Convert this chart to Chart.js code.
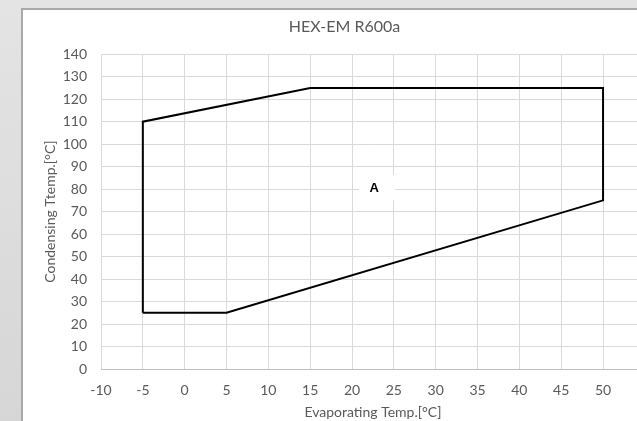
<!DOCTYPE html>
<html>
<head>
<meta charset="utf-8">
<script src="https://cdn.jsdelivr.net/npm/chart.js@4.4.0/dist/chart.umd.min.js"></script>
<style>
    html, body { margin: 0; padding: 0; width: 637px; height: 421px; overflow: hidden; }
    body { background: linear-gradient(#e4e4e4, #d6d6d6); position: relative; }
    #frame {
        position: absolute; left: 21px; top: 8px; right: -40px; bottom: -40px;
        background: #fff; border-top: 2px solid #a9a9a9; border-left: 2px solid #a9a9a9;
    }
    #wrap { position: absolute; left: 0; top: 0; width: 643px; height: 411px; }
</style>
</head>
<body>
<div id="frame"><div id="wrap"><canvas id="chart"></canvas></div></div>
<script>
// Operating envelope outline (evaporating temp, condensing temp)
const evapTemps = [-5, -5, 15, 50, 50, 5, -5];
const condTemps = [25, 110, 125, 125, 75, 25, 25];

// Region label
const regionLabels = ['A'];
const regionX = [23];
const regionY = [81];

const chartTitle = 'HEX-EM R600a';
const xTitle = 'Evaporating Temp.[°C]';
const yTitle = 'Condensing Ttemp.[°C]';

const FONT = 'Lato, "Open Sans", sans-serif';
const TEXT = '#595959';

// draws the "A" label with its white box, positioned through the scales
const regionLabelPlugin = {
    id: 'regionLabel',
    afterDatasetsDraw(chart) {
        const { ctx, scales } = chart;
        ctx.save();
        regionLabels.forEach((txt, i) => {
            const px = scales.x.getPixelForValue(regionX[i]);
            const py = scales.y.getPixelForValue(regionY[i]);
            ctx.fillStyle = '#fff';
            ctx.fillRect(px - 18, py - 12, 36, 25);
            ctx.fillStyle = '#000';
            ctx.font = 'bold 13px "Liberation Sans", Arial, sans-serif';
            ctx.textAlign = 'center';
            ctx.textBaseline = 'middle';
            ctx.fillText(txt, px - 3, py + 2);
        });
        ctx.restore();
    }
};

new Chart(document.getElementById('chart'), {
    type: 'scatter',
    data: {
        datasets: [{
            data: evapTemps.map((x, i) => ({ x: x, y: condTemps[i] })),
            showLine: true,
            borderColor: '#000',
            borderWidth: 2,
            pointRadius: 0,
            tension: 0,
            fill: false
        }]
    },
    options: {
        responsive: true,
        maintainAspectRatio: false,
        animation: false,
        layout: { padding: 0 },
        plugins: {
            legend: { display: false },
            tooltip: { enabled: false },
            title: {
                display: true,
                text: chartTitle,
                color: TEXT,
                font: { family: FONT, size: 16, weight: 'normal' },
                padding: { top: 7, bottom: 18 }
            }
        },
        scales: {
            x: {
                type: 'linear',
                min: -10,
                max: 55,
                ticks: { stepSize: 5, color: TEXT, font: { family: FONT, size: 14 }, padding: 13, maxRotation: 0 },
                grid: { color: '#d9d9d9', lineWidth: 1, drawTicks: false },
                border: { color: '#bfbfbf' },
                title: { display: true, text: xTitle, color: TEXT, font: { family: FONT, size: 14 }, padding: { top: 2, bottom: 0 } },
                afterFit(scale) { scale.height = 52; }
            },
            y: {
                type: 'linear',
                min: 0,
                max: 140,
                ticks: { stepSize: 10, color: TEXT, font: { family: FONT, size: 14 }, padding: 14 },
                grid: { color: '#d9d9d9', lineWidth: 1, drawTicks: false },
                border: { display: false },
                title: { display: true, text: yTitle, color: TEXT, font: { family: FONT, size: 14 }, padding: { top: 19, bottom: 0 } },
                afterFit(scale) { scale.width = 78; }
            }
        }
    },
    plugins: [regionLabelPlugin]
});
</script>
</body>
</html>
